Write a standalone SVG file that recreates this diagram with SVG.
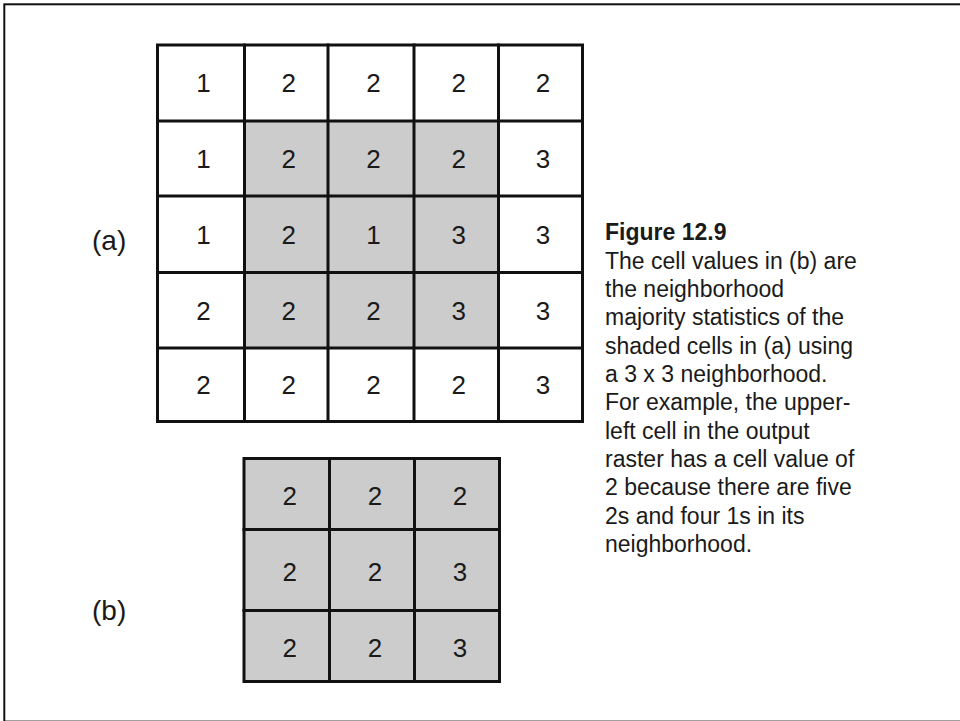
<svg xmlns="http://www.w3.org/2000/svg" width="960" height="721" viewBox="0 0 960 721">
<style>
.frame{fill:#ffffff;stroke:#111111;stroke-width:2}
.ln{stroke:#111111;stroke-width:3;fill:none;stroke-linecap:square}
.sh{fill:#cccccc}
.d{font-family:"Liberation Sans",Arial,sans-serif;font-size:26px;fill:#1a1a1a;text-anchor:middle}
.lab{font-family:"Liberation Sans",Arial,sans-serif;font-size:28px;fill:#1a1a1a}
.cap{font-family:"Liberation Sans",Arial,sans-serif;font-size:23px;fill:#1a1a1a}
.capb{font-family:"Liberation Sans",Arial,sans-serif;font-size:23px;font-weight:bold;fill:#1a1a1a}
</style>
<rect class="frame" x="4.3" y="4.3" width="958" height="717.3"/>

<g id="grid-a">
<rect class="sh" x="244.5" y="121" width="254" height="227"/>
<g class="ln">
<rect x="157.5" y="45" width="425" height="376.5"/>
<line x1="244.5" y1="45" x2="244.5" y2="421.5"/>
<line x1="328" y1="45" x2="328" y2="421.5"/>
<line x1="414" y1="45" x2="414" y2="421.5"/>
<line x1="498.5" y1="45" x2="498.5" y2="421.5"/>
<line x1="157.5" y1="121" x2="582.5" y2="121"/>
<line x1="157.5" y1="196" x2="582.5" y2="196"/>
<line x1="157.5" y1="272.5" x2="582.5" y2="272.5"/>
<line x1="157.5" y1="348" x2="582.5" y2="348"/>
</g>
<g class="d">
<text x="203.5" y="92.3">1</text><text x="288.8" y="92.3">2</text><text x="373.5" y="92.3">2</text><text x="458.8" y="92.3">2</text><text x="543" y="92.3">2</text>
<text x="203.5" y="167.8">1</text><text x="288.8" y="167.8">2</text><text x="373.5" y="167.8">2</text><text x="458.8" y="167.8">2</text><text x="543" y="167.8">3</text>
<text x="203.5" y="243.5">1</text><text x="288.8" y="243.5">2</text><text x="373.5" y="243.5">1</text><text x="458.8" y="243.5">3</text><text x="543" y="243.5">3</text>
<text x="203.5" y="319.5">2</text><text x="288.8" y="319.5">2</text><text x="373.5" y="319.5">2</text><text x="458.8" y="319.5">3</text><text x="543" y="319.5">3</text>
<text x="203.5" y="394">2</text><text x="288.8" y="394">2</text><text x="373.5" y="394">2</text><text x="458.8" y="394">2</text><text x="543" y="394">3</text>
</g>
</g>

<g id="grid-b">
<rect class="sh" x="244" y="458.5" width="255.5" height="223"/>
<g class="ln">
<rect x="244" y="458.5" width="255.5" height="223"/>
<line x1="329.5" y1="458.5" x2="329.5" y2="681.5"/>
<line x1="414.5" y1="458.5" x2="414.5" y2="681.5"/>
<line x1="244" y1="529.5" x2="499.5" y2="529.5"/>
<line x1="244" y1="610.5" x2="499.5" y2="610.5"/>
</g>
<g class="d">
<text x="289.8" y="504.5">2</text><text x="375" y="504.5">2</text><text x="460" y="504.5">2</text>
<text x="289.8" y="581">2</text><text x="375" y="581">2</text><text x="460" y="581">3</text>
<text x="289.8" y="657">2</text><text x="375" y="657">2</text><text x="460" y="657">3</text>
</g>
</g>

<g id="label-a"><text class="lab" x="92" y="250">(a)</text></g>
<g id="label-b"><text class="lab" x="92" y="620">(b)</text></g>

<g id="caption">
<text class="capb" x="605" y="240">Figure 12.9</text>
<text class="cap" x="605" y="269">The cell values in (b) are</text>
<text class="cap" x="605" y="297">the neighborhood</text>
<text class="cap" x="605" y="325">majority statistics of the</text>
<text class="cap" x="605" y="353.5">shaded cells in (a) using</text>
<text class="cap" x="605" y="382">a 3 x 3 neighborhood.</text>
<text class="cap" x="605" y="410">For example, the upper-</text>
<text class="cap" x="605" y="438.5">left cell in the output</text>
<text class="cap" x="605" y="467">raster has a cell value of</text>
<text class="cap" x="605" y="495">2 because there are five</text>
<text class="cap" x="605" y="523.5">2s and four 1s in its</text>
<text class="cap" x="605" y="552">neighborhood.</text>
</g>
</svg>
